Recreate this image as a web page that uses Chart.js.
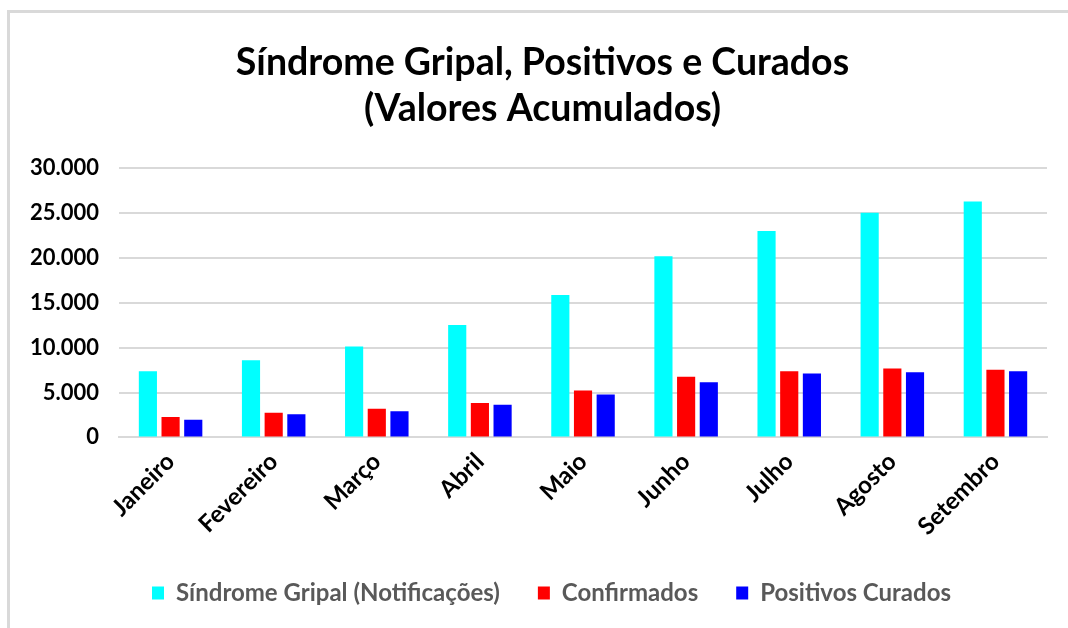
<!DOCTYPE html>
<html>
<head>
<meta charset="utf-8">
<script src="https://cdn.jsdelivr.net/npm/chart.js@4.4.1/dist/chart.umd.min.js"></script>
<style>
  html, body { margin: 0; padding: 0; background: #fff; overflow: hidden; }
  #box {
    position: absolute; left: 7px; top: 10px;
    width: 1058px; height: 650px;
    border-left: 3px solid #d9d9d9; border-top: 3px solid #d9d9d9;
  }
</style>
</head>
<body>
<div id="box"><canvas id="chart" width="1058" height="650"></canvas></div>
<script>
// meses (categorias)
const meses = ["Janeiro", "Fevereiro", "Março", "Abril", "Maio", "Junho", "Julho", "Agosto", "Setembro"];

// valores
const sindromeGripal = [7380, 8610, 10140, 12520, 15880, 20200, 23000, 25050, 26280];
const confirmados = [2270, 2760, 3200, 3840, 5220, 6750, 7380, 7680, 7530];
const positivosCurados = [1980, 2570, 2900, 3650, 4770, 6150, 7120, 7270, 7380];

const tituloLinhas = ["Síndrome Gripal, Positivos e Curados", "(Valores Acumulados)"];
const fonte = "Lato, 'Liberation Sans', sans-serif";

function formatarMilhar(v) {
  return String(v).replace(/\B(?=(\d{3})+(?!\d))/g, ".");
}

// o quadro original foi recortado à direita, por isso título e legenda ficam um pouco deslocados
const deslocarBlocos = {
  id: "deslocarBlocos",
  afterLayout(chart) {
    chart.titleBlock.left += 14;
    chart.titleBlock.right += 14;
    chart.legend.left += 23;
    chart.legend.right += 23;
  },
};

const ctx = document.getElementById("chart").getContext("2d");

new Chart(ctx, {
  type: "bar",
  data: {
    labels: meses,
    datasets: [
      { label: "Síndrome Gripal (Notificações)", data: sindromeGripal, backgroundColor: "#00ffff" },
      { label: "Confirmados", data: confirmados, backgroundColor: "#ff0000" },
      { label: "Positivos Curados", data: positivosCurados, backgroundColor: "#0000ff" },
    ],
  },
  options: {
    responsive: false,
    animation: false,
    datasets: {
      bar: { categoryPercentage: 0.66, barPercentage: 0.8 },
    },
    layout: { padding: { top: 0, left: 0, right: 21, bottom: 48 } },
    plugins: {
      title: {
        display: true,
        text: tituloLinhas,
        color: "#000",
        font: { family: fonte, size: 37.5, weight: "bold", lineHeight: 1.23 },
        padding: { top: 27, bottom: 36 },
      },
      legend: {
        position: "bottom",
        labels: {
          color: "#595959",
          font: { family: fonte, size: 24, weight: "bold" },
          boxWidth: 12,
          boxHeight: 13,
          padding: 38,
        },
      },
      tooltip: { enabled: false },
    },
    scales: {
      x: {
        grid: { display: false },
        border: { color: "#d9d9d9", width: 2 },
        ticks: {
          color: "#000",
          font: { family: fonte, size: 24, weight: "bold" },
          minRotation: 45,
          maxRotation: 45,
          padding: 2,
        },
      },
      y: {
        min: 0,
        max: 30000,
        ticks: {
          stepSize: 5000,
          color: "#000",
          font: { family: fonte, size: 22, weight: "bold" },
          padding: 20,
          callback: (v) => formatarMilhar(v),
        },
        grid: { color: "#d9d9d9", lineWidth: 2, drawTicks: false },
        border: { display: false },
      },
    },
  },
  plugins: [deslocarBlocos],
});
</script>
</body>
</html>
